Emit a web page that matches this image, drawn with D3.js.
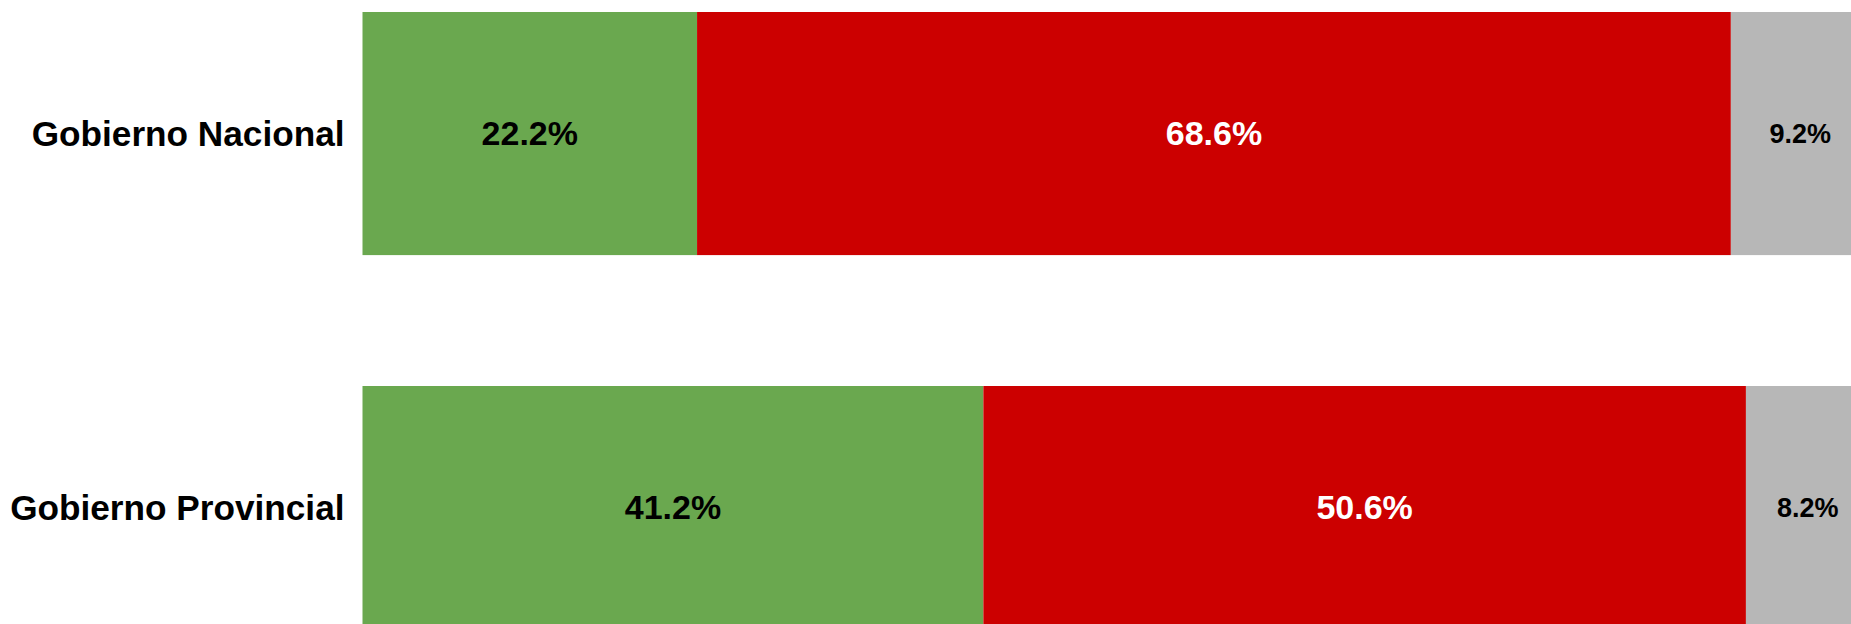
<!DOCTYPE html>
<html>
<head>
<meta charset="utf-8">
<script src="https://cdn.jsdelivr.net/npm/d3@7"></script>
<style>
  body { margin: 0; background: #fff; overflow: hidden; }
  svg { display: block; }
</style>
</head>
<body>
<div id="chart"></div>
<script>
// data
const categories = ["Gobierno Nacional", "Gobierno Provincial"];
const seriesNames = ["Aprueba", "Desaprueba", "Ns/Nc"];
const aprueba = [22.2, 41.2];
const desaprueba = [68.6, 50.6];
const nsnc = [9.2, 8.2];

const colors = ["#6aa84f", "#cc0000", "#b7b7b7"];
const labelColors = ["#000", "#fff", "#000"];
const labelSizes = [34, 34, 27];

// dimensions
const width = 1851, height = 624;
const margin = {top: 12, left: 362.5};

const svg = d3.select("#chart")
    .append("svg")
    .attr("width", width)
    .attr("height", height);

const rows = categories.map(function(c, i) {
    return {cat: c, Aprueba: aprueba[i], Desaprueba: desaprueba[i], "Ns/Nc": nsnc[i]};
});

const stacked = d3.stack().keys(seriesNames)(rows);

// x runs a little past the right edge, like the original crop
const x = d3.scaleLinear()
    .domain([0, 100])
    .range([margin.left, 1869.5]);

const y = d3.scaleBand()
    .domain(categories)
    .range([margin.top, margin.top + 374 * 1.65])
    .paddingInner(0.35)
    .paddingOuter(0);

// bars
const layer = svg.selectAll("g.layer")
    .data(stacked)
    .join("g")
    .attr("class", "layer")
    .attr("fill", function(d, i) { return colors[i]; });

layer.selectAll("rect")
    .data(function(d) { return d; })
    .join("rect")
    .attr("x", function(d) { return x(d[0]); })
    .attr("width", function(d) { return x(d[1]) - x(d[0]); })
    .attr("y", function(d) { return y(d.data.cat); })
    .attr("height", y.bandwidth());

// value labels
stacked.forEach(function(s, i) {
    svg.append("g")
        .selectAll("text")
        .data(s)
        .join("text")
        .attr("x", function(d) { return (x(d[0]) + x(d[1])) / 2; })
        .attr("y", function(d) { return y(d.data.cat) + y.bandwidth() / 2; })
        .attr("dy", "0.34em")
        .attr("text-anchor", "middle")
        .attr("font-family", "Liberation Sans, Arial, sans-serif")
        .attr("font-weight", "bold")
        .attr("font-size", labelSizes[i])
        .attr("fill", labelColors[i])
        .text(function(d) { return (d[1] - d[0]).toFixed(1) + "%"; });
});

// category axis
const yAxis = svg.append("g")
    .attr("transform", `translate(${margin.left}, 0)`)
    .call(d3.axisLeft(y).tickSize(0).tickPadding(18));

yAxis.select(".domain").remove();
yAxis.selectAll("text")
    .attr("font-family", "Liberation Sans, Arial, sans-serif")
    .attr("font-weight", "bold")
    .attr("font-size", 35.2)
    .attr("fill", "#000")
    .attr("dy", "0.34em");
</script>
</body>
</html>
